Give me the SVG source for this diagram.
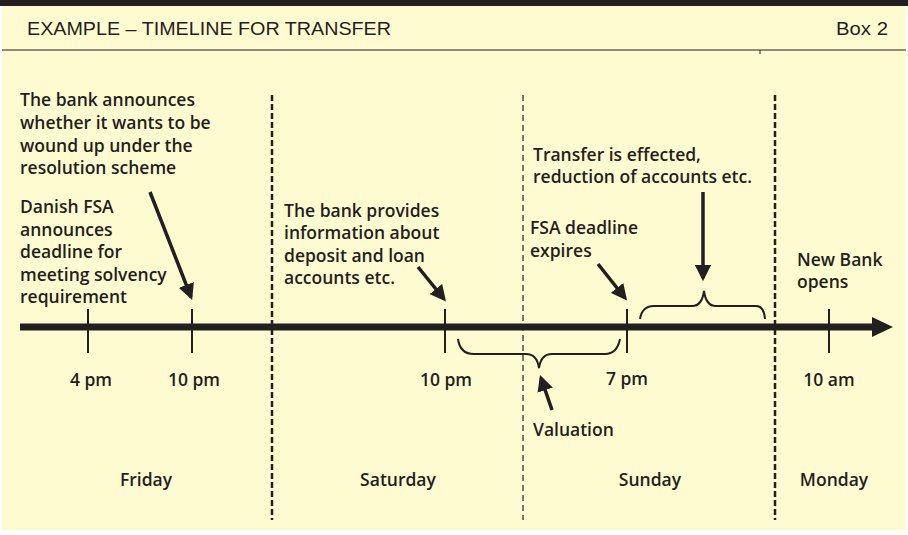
<svg xmlns="http://www.w3.org/2000/svg" width="908" height="535" viewBox="0 0 908 535">
<style>
.t{font-family:"Open Sans","Liberation Sans",sans-serif;font-weight:600;font-size:17.5px;fill:#231f20}
.h{font-family:"Liberation Sans",sans-serif;font-size:19px;fill:#231f20}
.c{text-anchor:middle}
.ln{stroke:#231f20;fill:none}
.ar{stroke:#231f20;stroke-width:3.5;fill:none;marker-end:url(#ah)}
</style>
<defs>
<marker id="ah" viewBox="0 0 10 10" refX="8" refY="5" markerWidth="4.6" markerHeight="4.6" orient="auto" markerUnits="strokeWidth">
<path d="M0,0 L10,5 L0,10 z" fill="#231f20"/>
</marker>
</defs>
<rect x="0" y="0" width="908" height="535" fill="#ffffff"/>
<rect x="2" y="0" width="904" height="530" fill="#fffbd0"/>
<rect x="0" y="0" width="908" height="6" fill="#231f20"/>
<line x1="2" y1="50" x2="906" y2="50" class="ln" stroke-width="1.2"/>
<line x1="760" y1="50" x2="760" y2="54" class="ln" stroke-width="1"/>
<text class="h" x="27" y="35" textLength="364" lengthAdjust="spacingAndGlyphs">EXAMPLE – TIMELINE FOR TRANSFER</text>
<text class="h" x="888" y="35" text-anchor="end" textLength="52" lengthAdjust="spacingAndGlyphs">Box 2</text>

<g id="dividers">
<line x1="272" y1="95" x2="272" y2="520" class="ln" stroke-width="2.5" stroke-dasharray="6,3"/>
<line x1="523" y1="95" x2="523" y2="520" class="ln" stroke-width="1.2" stroke-dasharray="6,4"/>
<line x1="775" y1="95" x2="775" y2="520" class="ln" stroke-width="2.5" stroke-dasharray="6,3"/>
</g>

<g id="timeline">
<line x1="20" y1="327" x2="878" y2="327" class="ln" stroke-width="7"/>
<path d="M872,317 L893,327 L872,337 z" fill="#231f20"/>
<line x1="88" y1="309" x2="88" y2="353" class="ln" stroke-width="2"/>
<line x1="192" y1="309" x2="192" y2="353" class="ln" stroke-width="2"/>
<line x1="445" y1="309" x2="445" y2="353" class="ln" stroke-width="2"/>
<line x1="627" y1="309" x2="627" y2="353" class="ln" stroke-width="2"/>
<line x1="829" y1="309" x2="829" y2="353" class="ln" stroke-width="2"/>
</g>

<g id="times">
<text class="t c" x="91" y="386">4 pm</text>
<text class="t c" x="194" y="386">10 pm</text>
<text class="t c" x="446" y="386">10 pm</text>
<text class="t c" x="627" y="385">7 pm</text>
<text class="t c" x="829" y="386">10 am</text>
</g>

<g id="days">
<text class="t c" x="146" y="486">Friday</text>
<text class="t c" x="398" y="486">Saturday</text>
<text class="t c" x="650" y="486">Sunday</text>
<text class="t c" x="834" y="486">Monday</text>
</g>

<g id="note-resolution">
<text class="t" x="20" y="106">The bank announces</text>
<text class="t" x="20" y="129">whether it wants to be</text>
<text class="t" x="20" y="152">wound up under the</text>
<text class="t" x="20" y="174">resolution scheme</text>
</g>
<g id="note-fsa">
<text class="t" x="20" y="213">Danish FSA</text>
<text class="t" x="20" y="236">announces</text>
<text class="t" x="20" y="258">deadline for</text>
<text class="t" x="20" y="281">meeting solvency</text>
<text class="t" x="20" y="303">requirement</text>
</g>
<g id="note-info">
<text class="t" x="284" y="217">The bank provides</text>
<text class="t" x="284" y="239">information about</text>
<text class="t" x="284" y="262">deposit and loan</text>
<text class="t" x="284" y="284">accounts etc.</text>
</g>
<g id="note-deadline">
<text class="t" x="530" y="234">FSA deadline</text>
<text class="t" x="530" y="257">expires</text>
</g>
<g id="note-transfer">
<text class="t" x="533" y="161">Transfer is effected,</text>
<text class="t" x="533" y="183">reduction of accounts etc.</text>
</g>
<g id="note-newbank">
<text class="t" x="797" y="266">New Bank</text>
<text class="t" x="797" y="288">opens</text>
</g>
<g id="note-valuation">
<text class="t" x="533" y="436">Valuation</text>
</g>

<g id="braces">
<path d="M458,339 Q460,354 474,354 L526,354 Q537,354 539,368 Q541,354 552,354 L605,354 Q617,354 620,339" class="ln" stroke-width="2"/>
<path d="M640,319 Q642,306 654,306 L692,306 Q702,306 704,291 Q706,306 716,306 L756,306 Q764,306 765,319" class="ln" stroke-width="2"/>
</g>

<g id="connectors">
<line x1="150" y1="192" x2="191" y2="297" class="ar"/>
<line x1="418" y1="267" x2="444" y2="299" class="ar"/>
<line x1="598" y1="264" x2="625" y2="298" class="ar"/>
<line x1="703" y1="192" x2="703" y2="278" class="ar"/>
<line x1="552" y1="410" x2="541" y2="378" class="ar"/>
</g>
</svg>
